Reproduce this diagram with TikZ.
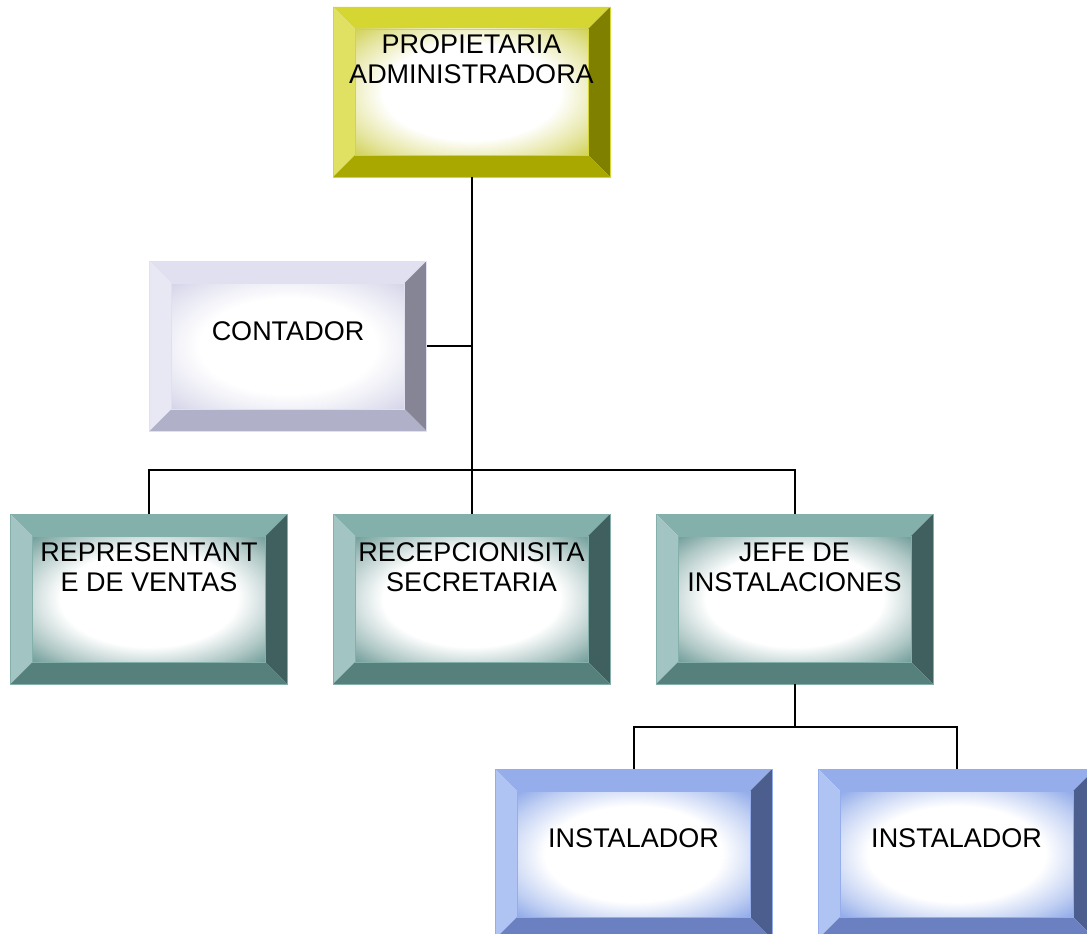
\documentclass[tikz,border=0pt]{standalone}
\usepackage{fontspec}
\setmainfont{Liberation Sans}
\usetikzlibrary{calc}

% bevel colours: L left, T top, R right, B bottom, S inner tint
\definecolor{yelL}{HTML}{E0E062}
\definecolor{yelT}{HTML}{D6D632}
\definecolor{yelR}{HTML}{808000}
\definecolor{yelB}{HTML}{A8A800}
\definecolor{yelS}{HTML}{CFCF50}
\definecolor{conL}{HTML}{E8E8F5}
\definecolor{conT}{HTML}{E0E0F0}
\definecolor{conR}{HTML}{858595}
\definecolor{conB}{HTML}{B0B0C8}
\definecolor{conS}{HTML}{D2D2E8}
\definecolor{tealL}{HTML}{A2C4C2}
\definecolor{tealT}{HTML}{84B0AC}
\definecolor{tealR}{HTML}{3F605E}
\definecolor{tealB}{HTML}{56807C}
\definecolor{tealS}{HTML}{6A9894}
\definecolor{bluL}{HTML}{B0C4F4}
\definecolor{bluT}{HTML}{95AEEB}
\definecolor{bluR}{HTML}{4C5E8E}
\definecolor{bluB}{HTML}{6A80C0}
\definecolor{bluS}{HTML}{8AA6E8}
\colorlet{shtint}{white}
\pgfdeclareradialshading[shtint]{soft}{\pgfpoint{0bp}{0bp}}{%
    color(0bp)=(white); color(19bp)=(white); color(29bp)=(shtint!55);
    color(36bp)=(shtint); color(50bp)=(shtint)}

\begin{document}
\begin{tikzpicture}[x=1pt, y=-1pt]
    \tikzset{
        bevel/.style={minimum width=277pt, minimum height=170pt, inner sep=0pt,
            path picture={
                \coordinate (nw) at (path picture bounding box.north west);
                \coordinate (ne) at (path picture bounding box.north east);
                \coordinate (sw) at (path picture bounding box.south west);
                \coordinate (se) at (path picture bounding box.south east);
                \coordinate (inw) at ([shift={(22pt,-22pt)}]nw);
                \coordinate (ine) at ([shift={(-22pt,-22pt)}]ne);
                \coordinate (isw) at ([shift={(22pt,22pt)}]sw);
                \coordinate (ise) at ([shift={(-22pt,22pt)}]se);
                \fill[#1T] (nw) -- (ne) -- (ine) -- (inw) -- cycle;
                \fill[#1L] (nw) -- (inw) -- (isw) -- (sw) -- cycle;
                \fill[#1R] (ne) -- (se) -- (ise) -- (ine) -- cycle;
                \fill[#1B] (sw) -- (isw) -- (ise) -- (se) -- cycle;
                \colorlet{shtint}{#1S}
                \shade[shading=soft, shading angle=0] (inw) rectangle (ise);
                \draw[#1T, line width=0.6pt] (inw) rectangle (ise);
            }, draw=#1T, line width=0.6pt},
        lbl/.style={align=center, font=\fontsize{27}{30}\selectfont},
        link/.style={line width=2pt}
    }
    \useasboundingbox (0,0) rectangle (1087,934);

    \node[bevel=yel] (prop) at (471.5,92) {};
    \node[bevel=con] (cont) at (288,346) {};
    \node[bevel=teal] (rep) at (149,599) {};
    \node[bevel=teal] (rec) at (471.5,599) {};
    \node[bevel=teal] (jefe) at (794.5,599) {};
    \node[bevel=blu] (inst1) at (633.5,854) {};
    \node[bevel=blu] (inst2) at (956.5,854) {};

    \node[lbl] (propt) at ([yshift=33pt]prop.center) {PROPIETARIA\\ADMINISTRADORA};
    \node[lbl] (contt) at ([yshift=15pt]cont.center) {CONTADOR};
    \node[lbl] (rept) at ([yshift=32pt]rep.center) {REPRESENTANT\\E DE VENTAS};
    \node[lbl] (rect) at ([yshift=32pt]rec.center) {RECEPCIONISITA\\SECRETARIA};
    \node[lbl] (jefet) at ([yshift=32pt]jefe.center) {JEFE DE\\INSTALACIONES};
    \node[lbl] (inst1t) at ([yshift=16pt]inst1.center) {INSTALADOR};
    \node[lbl] (inst2t) at ([yshift=16pt]inst2.center) {INSTALADOR};

    \coordinate (bus) at (471.5,470);
    \coordinate (sub) at (794.5,727);

    \draw[link] (prop.south) -- (bus);
    \draw[link] (cont.east) -- (cont.east -| prop.south);
    \draw[link] (rep.north) |- (bus) -| (jefe.north);
    \draw[link] (bus) -- (rec.north);
    \draw[link] (jefe.south) -- (sub);
    \draw[link] (inst1.north) |- (sub) -| (inst2.north);
\end{tikzpicture}
\end{document}
